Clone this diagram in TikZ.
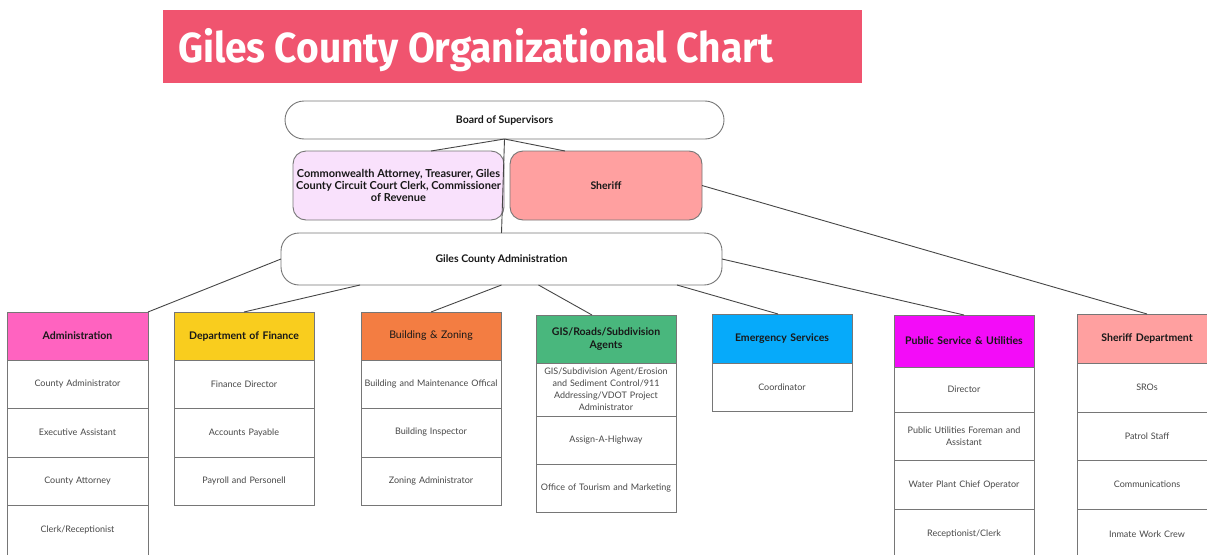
\documentclass[tikz,border=0pt]{standalone}
\usepackage{fontspec}
\usepackage{graphicx}
\setmainfont{Lato}
\newfontfamily\titlefont{Fira Sans}
\usetikzlibrary{calc}

\definecolor{titlered}{RGB}{240,84,111}
\definecolor{bordergray}{RGB}{118,118,118}
\definecolor{linegray}{RGB}{70,70,70}
\definecolor{headtext}{RGB}{24,24,24}
\definecolor{itemtext}{RGB}{72,72,72}
\definecolor{cwpink}{RGB}{249,225,252}
\definecolor{salmon}{RGB}{255,160,160}
\definecolor{admpink}{RGB}{255,99,192}
\definecolor{finyellow}{RGB}{249,205,30}
\definecolor{bzorange}{RGB}{243,125,66}
\definecolor{gisgreen}{RGB}{73,183,125}
\definecolor{emblue}{RGB}{6,170,250}
\definecolor{psmagenta}{RGB}{243,12,248}

\begin{document}
\begin{tikzpicture}[x=1pt,y=-1pt,
  every node/.style={outer sep=0pt},
  pill/.style={draw=bordergray, line width=0.9pt, fill=white, inner sep=0pt,
    align=center, text=headtext, font=\bfseries\fontsize{10.5}{11.7}\selectfont},
  hd/.style={draw=bordergray, line width=0.9pt, anchor=north west, inner sep=0pt,
    minimum width=140, text width=136, align=center, text=headtext,
    font=\bfseries\fontsize{10.5}{13.5}\selectfont},
  it/.style={draw=bordergray, line width=0.9pt, fill=white, anchor=north west,
    inner sep=0pt, minimum width=140, text width=137, align=center,
    text=itemtext, font=\fontsize{9}{11.9}\selectfont},
  conn/.style={draw=linegray, line width=0.9pt}]

\useasboundingbox (0,0) rectangle (1207,554);
\clip (0,0) rectangle (1207,554);

% title banner
\node[fill=titlered, anchor=north west, minimum width=699, minimum height=73,
  inner sep=0pt] (banner) at (163,10) {};
\node[anchor=base west, inner sep=0pt, text=white] (ttl) at (178,62)
  {\resizebox{595pt}{\height}{\titlefont\bfseries\fontsize{42}{42}\selectfont Giles County Organizational Chart}};

% upper hierarchy
\node[pill, rounded corners=19, minimum width=439, minimum height=38] (bos)
  at (504.5,120) {Board of Supervisors};
\node[pill, rounded corners=13, fill=cwpink, minimum width=211, minimum height=69,
  font=\bfseries\fontsize{11}{12}\selectfont] (cw)
  at (398.5,185.5) {Commonwealth Attorney, Treasurer, Giles\\County Circuit Court Clerk, Commissioner\\of Revenue};
\node[pill, rounded corners=13, fill=salmon, minimum width=192, minimum height=69] (sh)
  at (606,185.5) {Sheriff};
\node[pill, rounded corners=18, minimum width=441, minimum height=52] (gca)
  at (501.5,259) {Giles County Administration};

% Administration
\node[hd, fill=admpink, minimum width=141, minimum height=48] (adm) at (7,312) {Administration};
\node[it, minimum width=141, minimum height=48] (adm1) at (adm.south west) {County Administrator};
\node[it, minimum width=141, minimum height=49] (adm2) at (adm1.south west) {Executive Assistant};
\node[it, minimum width=141, minimum height=48] (adm3) at (adm2.south west) {County Attorney};
\node[it, minimum width=141, minimum height=50] (adm4) at (adm3.south west) {Clerk/Receptionist};

% Department of Finance
\node[hd, fill=finyellow, minimum height=48] (fin) at (174,312) {Department of Finance};
\node[it, minimum height=48] (fin1) at (fin.south west) {Finance Director};
\node[it, minimum height=49] (fin2) at (fin1.south west) {Accounts Payable};
\node[it, minimum height=48] (fin3) at (fin2.south west) {Payroll and Personell};

% Building & Zoning
\node[hd, fill=bzorange, minimum height=48, font=\fontsize{10.5}{13.5}\selectfont] (bz) at (361,312) {Building \& Zoning};
\node[it, minimum height=48] (bz1) at (bz.south west) {Building and Maintenance Offical};
\node[it, minimum height=49] (bz2) at (bz1.south west) {Building Inspector};
\node[it, minimum height=48] (bz3) at (bz2.south west) {Zoning Administrator};

% GIS/Roads/Subdivision Agents
\node[hd, fill=gisgreen, minimum height=48] (gis) at (536,315) {GIS/Roads/Subdivision\\Agents};
\node[it, minimum height=53] (gis1) at (gis.south west) {GIS/Subdivision Agent/Erosion\\and Sediment Control/911\\Addressing/VDOT Project\\Administrator};
\node[it, minimum height=48] (gis2) at (gis1.south west) {Assign-A-Highway};
\node[it, minimum height=48] (gis3) at (gis2.south west) {Office of Tourism and Marketing};

% Emergency Services
\node[hd, fill=emblue, minimum height=49] (em) at (712,314) {Emergency Services};
\node[it, minimum height=48] (em1) at (em.south west) {Coordinator};

% Public Service & Utilities
\node[hd, fill=psmagenta, minimum height=52] (ps) at (894,315) {Public Service \& Utilities};
\node[it, minimum height=45] (ps1) at (ps.south west) {Director};
\node[it, minimum height=48] (ps2) at (ps1.south west) {Public Utilities Foreman and\\Assistant};
\node[it, minimum height=49] (ps3) at (ps2.south west) {Water Plant Chief Operator};
\node[it, minimum height=50] (ps4) at (ps3.south west) {Receptionist/Clerk};

% Sheriff Department
\node[hd, fill=salmon, minimum height=49] (sd) at (1077,314) {Sheriff Department};
\node[it, minimum height=49] (sd1) at (sd.south west) {SROs};
\node[it, minimum height=48] (sd2) at (sd1.south west) {Patrol Staff};
\node[it, minimum height=49] (sd3) at (sd2.south west) {Communications};
\node[it, minimum height=50] (sd4) at (sd3.south west) {Inmate Work Crew};

% connectors
\draw[conn] (bos.south) -- ($(cw.north west)+(138,0)$);
\draw[conn] (bos.south) -- ($(sh.north west)+(55,0)$);
\draw[conn] (bos.south) -- (gca.north);
\draw[conn] (gca.west) -- (adm.north east);
\draw[conn] ($(gca.south west)+(79,0)$) -- (fin.north);
\draw[conn] (gca.south) -- (bz.north);
\draw[conn] ($(gca.south)+(37,0)$) -- ($(gis.north west)+(56,0)$);
\draw[conn] ($(gca.south west)+(396,0)$) -- ($(em.north)+(-4,0)$);
\draw[conn] (gca.east) -- (ps.north);
\draw[conn] (sh.east) -- (sd.north);
\end{tikzpicture}
\end{document}
